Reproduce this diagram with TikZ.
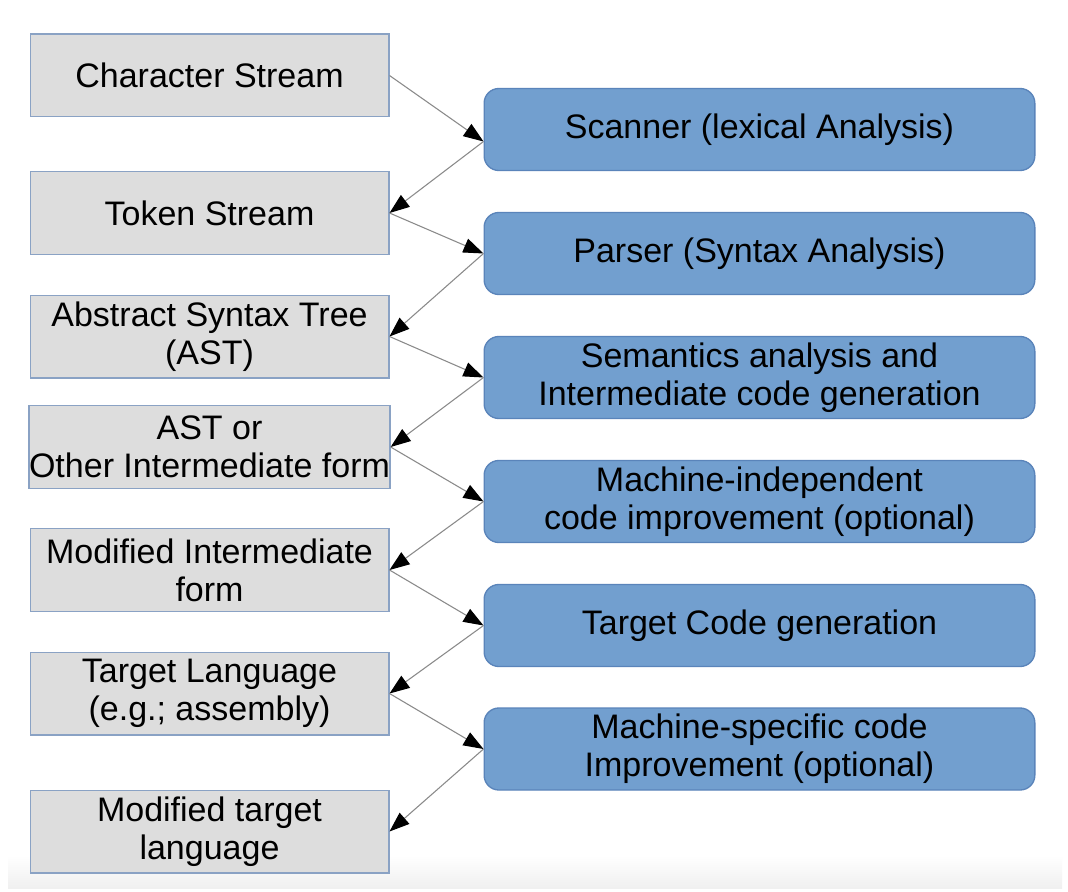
\documentclass[tikz,border=0pt]{standalone}
\usepackage{fontspec}
\setmainfont{Liberation Sans}
\usetikzlibrary{arrows.meta}
\definecolor{lfill}{HTML}{DDDDDD}
\definecolor{ldraw}{HTML}{8AA2C4}
\definecolor{rfill}{HTML}{729FCF}
\definecolor{rdraw}{HTML}{5A84BA}
\definecolor{lin}{HTML}{8A8A8A}
\begin{document}
\begin{tikzpicture}[x=0.75pt,y=-0.75pt,
  lbox/.style={draw=ldraw, line width=1pt, fill=lfill, minimum width=269pt, minimum height=62pt, inner sep=0pt, align=center, font=\fontsize{25.5}{28.5}\selectfont},
  rbox/.style={draw=rdraw, line width=1pt, fill=rfill, rounded corners=11pt, minimum width=413pt, minimum height=61.5pt, inner sep=0pt, align=center, font=\fontsize{25.5}{28.5}\selectfont},
  flow/.style={draw=lin, line width=0.8pt, -{Triangle[length=15pt,width=11pt,color=black]}}]
\useasboundingbox (0,0) rectangle (1068,892);
\fill[white] (0,0) rectangle (1068,892);
\shade[top color=white, bottom color=black!6] (8,855) rectangle (1062,888);
% left column
\node[lbox] (l1) at (209.5,75.5) {Character Stream};
\node[lbox] (l2) at (209.5,213) {Token Stream};
\node[lbox] (l3) at (209.5,336.5) {Abstract Syntax Tree\\(AST)};
\node[lbox] (l4) at (209.5,447) {AST or\\Other Intermediate form};
\node[lbox] (l5) at (209.5,570) {Modified Intermediate\\form};
\node[lbox] (l6) at (209.5,693.5) {Target Language\\(e.g.; assembly)};
\node[lbox] (l7) at (209.5,831.5) {Modified target\\language};
% right column
\node[rbox] (r1) at (759.5,129.5) {Scanner (lexical Analysis)};
\node[rbox] (r2) at (759.5,253.5) {Parser (Syntax Analysis)};
\node[rbox] (r3) at (759.5,377.5) {Semantics analysis and\\Intermediate code generation};
\node[rbox] (r4) at (759.5,501.5) {Machine-independent\\code improvement (optional)};
\node[rbox] (r5) at (759.5,625.5) {Target Code generation};
\node[rbox] (r6) at (759.5,749) {Machine-specific code\\Improvement (optional)};
% connectors
\draw[flow] (l1.east) -- ([yshift=-9pt]r1.west);
\draw[flow] ([yshift=-9pt]r1.west) -- (l2.east);
\draw[flow] (l2.east) -- (r2.west);
\draw[flow] (r2.west) -- (l3.east);
\draw[flow] (l3.east) -- (r3.west);
\draw[flow] (r3.west) -- (l4.east);
\draw[flow] (l4.east) -- (r4.west);
\draw[flow] (r4.west) -- (l5.east);
\draw[flow] (l5.east) -- (r5.west);
\draw[flow] (r5.west) -- (l6.east);
\draw[flow] (l6.east) -- (r6.west);
\draw[flow] (r6.west) -- (l7.east);
\end{tikzpicture}
\end{document}
